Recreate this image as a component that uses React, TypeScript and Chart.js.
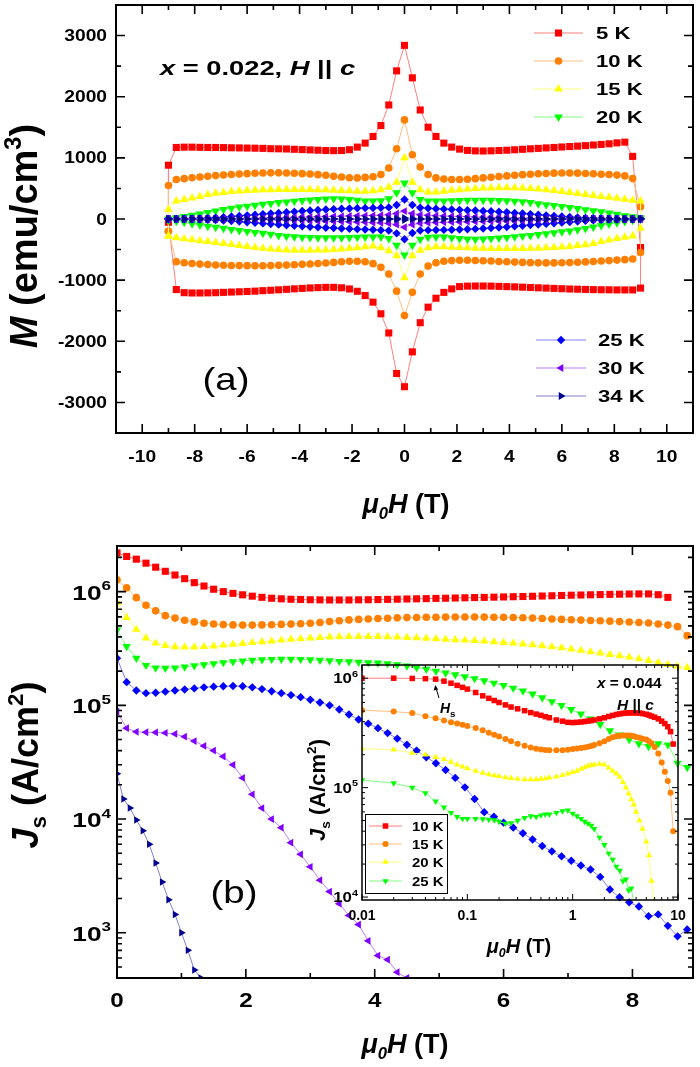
import React, { useEffect, useRef } from 'react';
import { Chart, registerables } from 'chart.js';
import { drawPoint } from 'chart.js/helpers';

Chart.register(...registerables);

// ---------------- DATA : panel (a) M(H) loops ----------------
const TEMPS = ['5 K', '10 K', '15 K', '20 K', '25 K', '30 K', '34 K'];
const H_LOOP = [-9.0, -8.7, -8.4, -8.1, -7.8, -7.5, -7.2, -6.9, -6.6, -6.3, -6.0, -5.7, -5.4, -5.1, -4.8, -4.5, -4.2, -3.9, -3.6, -3.3, -3.0, -2.7, -2.4, -2.1, -1.8, -1.5, -1.2, -0.9, -0.6, -0.3, 0, 0.3, 0.6, 0.9, 1.2, 1.5, 1.8, 2.1, 2.4, 2.7, 3.0, 3.3, 3.6, 3.9, 4.2, 4.5, 4.8, 5.1, 5.4, 5.7, 6.0, 6.3, 6.6, 6.9, 7.2, 7.5, 7.8, 8.1, 8.4, 8.7, 9.0];

const M5_UP = [880, 1170, 1175, 1175, 1172, 1170, 1170, 1168, 1165, 1163,
  1160, 1158, 1155, 1150, 1148, 1145, 1140, 1135, 1130, 1125,
  1120, 1118, 1120, 1133, 1176, 1241, 1350, 1528, 1865, 2423,
  2840, 2309, 1783, 1501, 1350, 1241, 1176, 1143, 1122, 1114,
  1112, 1115, 1120, 1125, 1132, 1140, 1148, 1155, 1163, 1170,
  1178, 1185, 1192, 1200, 1210, 1220, 1230, 1245, 1257, 1024, -467];
const M5_LO = [-50, -1154, -1205, -1210, -1210, -1208, -1205, -1200, -1195, -1190,
  -1185, -1180, -1172, -1165, -1158, -1150, -1142, -1135, -1128, -1122,
  -1118, -1118, -1125, -1144, -1182, -1252, -1360, -1550, -1864, -2526,
  -2743, -2173, -1696, -1442, -1296, -1200, -1143, -1106, -1098, -1096,
  -1096, -1098, -1102, -1106, -1110, -1115, -1120, -1125, -1130, -1135,
  -1140, -1145, -1148, -1152, -1155, -1157, -1158, -1160, -1160, -1160, -1130];

const M10_UP = [548, 645, 660, 675, 688, 700, 710, 720, 728, 735,
  742, 748, 752, 755, 755, 752, 748, 742, 735, 725,
  715, 700, 688, 675, 672, 680, 690, 727, 835, 1149,
  1621, 1052, 851, 727, 672, 655, 645, 645, 650, 660,
  672, 683, 695, 705, 715, 725, 733, 740, 745, 750,
  753, 753, 750, 745, 740, 733, 727, 718, 705, 661, 200];
const M10_LO = [-200, -700, -715, -728, -738, -745, -752, -757, -760, -762,
  -763, -764, -764, -762, -758, -754, -748, -742, -735, -728,
  -720, -710, -700, -690, -690, -700, -730, -790, -900, -1180,
  -1580, -1200, -900, -770, -715, -690, -680, -675, -675, -678,
  -682, -688, -694, -700, -705, -710, -714, -717, -718, -718,
  -716, -713, -708, -702, -695, -688, -680, -672, -665, -655, -548];

const M15_UP = [157, 293, 320, 345, 370, 400, 420, 435, 448, 458,
  466, 472, 477, 480, 482, 483, 483, 483, 482, 480,
  477, 472, 466, 460, 455, 455, 460, 480, 520, 600,
  1000, 600, 480, 440, 440, 455, 470, 480, 490, 500,
  505, 509, 512, 512, 510, 507, 500, 490, 478, 465,
  450, 435, 418, 400, 385, 370, 355, 340, 325, 305, 293];
const M15_LO = [-276, -305, -325, -340, -355, -370, -385, -400, -418, -435,
  -450, -465, -478, -490, -500, -507, -510, -512, -512, -509,
  -505, -500, -490, -480, -470, -455, -440, -470, -520, -600,
  -960, -600, -510, -470, -455, -455, -460, -466, -472, -477,
  -480, -482, -483, -483, -483, -482, -480, -477, -472, -466,
  -458, -448, -435, -420, -400, -370, -345, -320, -300, -280, -150];

const M20_UP = [0, 20, 40, 60, 80, 105, 130, 155, 175, 195,
  210, 225, 240, 255, 268, 280, 292, 302, 312, 320,
  328, 330, 328, 320, 305, 293, 293, 300, 330, 430,
  590, 430, 320, 295, 293, 296, 300, 303, 305, 306,
  306, 305, 302, 298, 292, 282, 268, 250, 235, 220,
  205, 190, 170, 152, 135, 118, 98, 76, 55, 38, 21];
const M20_LO = [-21, -38, -55, -76, -98, -118, -135, -152, -170, -190,
  -205, -220, -235, -250, -268, -282, -292, -298, -302, -305,
  -306, -306, -305, -303, -300, -296, -293, -295, -320, -430,
  -590, -430, -330, -300, -293, -293, -305, -320, -328, -330,
  -328, -320, -312, -302, -292, -280, -268, -255, -240, -225,
  -210, -195, -175, -155, -130, -105, -80, -60, -40, -20, 0];

const M25_UP = [0, 2, 4, 7, 10, 15, 22, 30, 40, 50,
  60, 70, 80, 90, 100, 110, 120, 130, 140, 148,
  155, 162, 168, 172, 176, 178, 180, 183, 190, 230,
  320, 230, 185, 175, 168, 162, 157, 150, 144, 138,
  132, 126, 118, 110, 100, 90, 80, 70, 60, 50,
  40, 32, 25, 18, 13, 9, 6, 4, 2, 1, 0];
const M25_LO = [0, -1, -3, -5, -8, -12, -17, -24, -32, -42,
  -52, -62, -72, -82, -92, -102, -112, -120, -128, -135,
  -142, -148, -155, -160, -166, -172, -176, -183, -190, -235,
  -330, -230, -188, -182, -180, -178, -176, -172, -168, -162,
  -155, -148, -140, -130, -120, -110, -100, -90, -80, -70,
  -60, -50, -40, -30, -22, -15, -10, -7, -4, -2, 0];

const M30_UP = [0, 0, 1, 1, 2, 3, 4, 5, 7, 9,
  11, 13, 16, 19, 22, 25, 28, 31, 34, 37,
  40, 43, 46, 49, 52, 55, 58, 62, 70, 90,
  130, 90, 68, 60, 55, 50, 46, 42, 38, 34,
  30, 27, 24, 21, 18, 15, 12, 10, 8, 6,
  5, 4, 3, 2, 2, 1, 1, 0, 0, 0, 0];
const M30_LO = [0, 0, 0, -1, -1, -2, -2, -3, -4, -5,
  -6, -8, -10, -12, -15, -18, -21, -24, -27, -30,
  -34, -38, -42, -46, -50, -55, -60, -65, -72, -92,
  -135, -92, -70, -62, -58, -55, -52, -49, -46, -43,
  -40, -37, -34, -31, -28, -25, -22, -19, -16, -13,
  -11, -9, -7, -5, -4, -3, -2, -1, -1, 0, 0];

const M34_UP = [0, 0, 0, 0, 0, 0, 0, 0, 0, 0,
  0, 0, 0, 0, 0, 1, 1, 1, 1, 1,
  1, 1, 2, 2, 2, 2, 3, 4, 6, 10,
  18, 10, 6, 4, 3, 2, 2, 2, 1, 1,
  1, 1, 1, 1, 1, 1, 0, 0, 0, 0,
  0, 0, 0, 0, 0, 0, 0, 0, 0, 0, 0];
const M34_LO = [0, 0, 0, 0, 0, 0, 0, 0, 0, 0,
  0, 0, 0, 0, -1, -1, -1, -1, -1, -1,
  -1, -1, -2, -2, -2, -2, -3, -4, -6, -10,
  -18, -10, -6, -4, -3, -2, -2, -2, -1, -1,
  -1, -1, -1, -1, -1, 0, 0, 0, 0, 0,
  0, 0, 0, 0, 0, 0, 0, 0, 0, 0, 0];

const LOOPS_UP = [M5_UP, M10_UP, M15_UP, M20_UP, M25_UP, M30_UP, M34_UP];
const LOOPS_LO = [M5_LO, M10_LO, M15_LO, M20_LO, M25_LO, M30_LO, M34_LO];

// ---------------- DATA : panel (b) Js(H) ----------------
const JS_H = [0, 0.15, 0.3, 0.45, 0.6, 0.75, 0.9, 1.05, 1.2, 1.35, 1.5, 1.65, 1.8, 1.95, 2.1, 2.25, 2.4, 2.55, 2.7, 2.85, 3.0, 3.15, 3.3, 3.45, 3.6, 3.75, 3.9, 4.05, 4.2, 4.35, 4.5, 4.65, 4.8, 4.95, 5.1, 5.25, 5.4, 5.55, 5.7, 5.85, 6.0, 6.15, 6.3, 6.45, 6.6, 6.75, 6.9, 7.05, 7.2, 7.35, 7.5, 7.65, 7.8, 7.95, 8.1, 8.25, 8.4, 8.55, 8.7, 8.85];
const JS5 = [2.19e6, 2.04e6, 1.93e6, 1.78e6, 1.64e6, 1.51e6, 1.40e6, 1.30e6, 1.20e6, 1.12e6,
  1.05e6, 1.00e6, 9.66e5, 9.38e5, 9.12e5, 8.91e5, 8.75e5, 8.65e5, 8.57e5, 8.53e5,
  8.49e5, 8.47e5, 8.45e5, 8.45e5, 8.45e5, 8.47e5, 8.49e5, 8.52e5, 8.55e5, 8.58e5,
  8.62e5, 8.65e5, 8.68e5, 8.72e5, 8.75e5, 8.79e5, 8.83e5, 8.87e5, 8.90e5, 8.94e5,
  8.98e5, 9.02e5, 9.06e5, 9.10e5, 9.15e5, 9.20e5, 9.25e5, 9.30e5, 9.34e5, 9.38e5,
  9.42e5, 9.46e5, 9.50e5, 9.53e5, 9.55e5, 9.55e5, 9.40e5, 8.90e5];
const JS10 = [1.27e6, 1.08e6, 8.85e5, 7.6e5, 6.78e5, 6.15e5, 5.85e5, 5.6e5, 5.42e5, 5.28e5,
  5.2e5, 5.13e5, 5.1e5, 5.08e5, 5.08e5, 5.1e5, 5.12e5, 5.15e5, 5.18e5, 5.22e5,
  5.28e5, 5.35e5, 5.45e5, 5.55e5, 5.64e5, 5.7e5, 5.75e5, 5.8e5, 5.84e5, 5.88e5,
  5.91e5, 5.93e5, 5.95e5, 5.96e5, 5.97e5, 5.98e5, 5.98e5, 5.98e5, 5.97e5, 5.96e5,
  5.95e5, 5.93e5, 5.9e5, 5.85e5, 5.8e5, 5.75e5, 5.7e5, 5.66e5, 5.62e5, 5.58e5,
  5.54e5, 5.5e5, 5.45e5, 5.4e5, 5.35e5, 5.3e5, 5.2e5, 5.08e5, 4.92e5, 4.1e5];
const JS15 = [8.0e5, 5.9e5, 4.65e5, 3.9e5, 3.52e5, 3.35e5, 3.27e5, 3.25e5, 3.26e5, 3.28e5,
  3.32e5, 3.38e5, 3.44e5, 3.5e5, 3.56e5, 3.62e5, 3.68e5, 3.74e5, 3.8e5, 3.85e5,
  3.9e5, 3.94e5, 3.98e5, 4.0e5, 4.02e5, 4.03e5, 4.03e5, 4.02e5, 4.0e5, 3.98e5,
  3.95e5, 3.92e5, 3.88e5, 3.84e5, 3.8e5, 3.77e5, 3.74e5, 3.71e5, 3.67e5, 3.62e5,
  3.57e5, 3.52e5, 3.46e5, 3.4e5, 3.34e5, 3.27e5, 3.2e5, 3.12e5, 3.04e5, 2.96e5,
  2.88e5, 2.8e5, 2.73e5, 2.65e5, 2.57e5, 2.48e5, 2.38e5, 2.28e5, 2.2e5, 2.15e5];
const JS20 = [4.6e5, 3.3e5, 2.6e5, 2.25e5, 2.13e5, 2.12e5, 2.14e5, 2.18e5, 2.23e5, 2.28e5,
  2.33e5, 2.38e5, 2.42e5, 2.46e5, 2.5e5, 2.52e5, 2.54e5, 2.55e5, 2.55e5, 2.54e5,
  2.52e5, 2.5e5, 2.47e5, 2.44e5, 2.42e5, 2.4e5, 2.38e5, 2.36e5, 2.33e5, 2.28e5,
  2.22e5, 2.15e5, 2.08e5, 2.0e5, 1.93e5, 1.86e5, 1.79e5, 1.72e5, 1.65e5, 1.57e5,
  1.5e5, 1.42e5, 1.34e5, 1.26e5, 1.17e5, 1.08e5, 1.0e5, 9.2e4, 8.4e4, 7.6e4,
  6.8e4, 6.0e4, 5.5e4, 5.0e4, 4.6e4, 4.35e4, 4.6e4, 4.5e4, 3.1e4, 2.85e4];
const JS25 = [2.6e5, 1.6e5, 1.35e5, 1.28e5, 1.29e5, 1.32e5, 1.35e5, 1.38e5, 1.41e5, 1.44e5,
  1.46e5, 1.47e5, 1.48e5, 1.47e5, 1.44e5, 1.39e5, 1.33e5, 1.28e5, 1.23e5, 1.18e5,
  1.12e5, 1.06e5, 1.0e5, 9.2e4, 8.3e4, 7.5e4, 6.9e4, 6.3e4, 5.7e4, 5.1e4,
  4.5e4, 4.0e4, 3.5e4, 3.1e4, 2.7e4, 2.3e4, 1.9e4, 1.5e4, 1.15e4, 1.05e4,
  9.3e3, 8.4e3, 7.5e3, 6.6e3, 5.8e3, 5.2e3, 4.7e3, 4.3e3, 3.9e3, 3.6e3,
  3.1e3, 2.4e3, 2.05e3, 1.85e3, 1.7e3, 1.4e3, 1.45e3, 1.15e3, 9.3e2, 1.07e3];
const JS30 = [8.8e4, 6.3e4, 5.85e4, 5.8e4, 5.78e4, 5.72e4, 5.6e4, 5.3e4, 4.85e4, 4.4e4,
  4.0e4, 3.55e4, 3.0e4, 2.3e4, 1.65e4, 1.25e4, 1.0e4, 8.4e3, 6.2e3, 4.9e3,
  3.8e3, 2.9e3, 2.3e3, 1.8e3, 1.42e3, 1.18e3, 8.5e2, 6.3e2, 5.8e2, 4.5e2, 4.0e2];
const H34 = [0, 0.1, 0.2, 0.3, 0.4, 0.5, 0.6, 0.7, 0.8, 0.9, 1.0, 1.1, 1.2, 1.3];
const JS34 = [2.5e4, 1.5e4, 1.25e4, 9.8e3, 7.9e3, 6.0e3, 4.1e3, 2.8e3, 1.95e3, 1.45e3, 1.0e3, 7.0e2, 4.7e2, 4.0e2];

// ---------------- DATA : inset (x = 0.044) ----------------
const INSET_TEMPS = ['10 K', '15 K', '20 K', '25 K'];
const INSET_H = [0.01, 0.02, 0.03, 0.04, 0.05, 0.06, 0.07, 0.08, 0.09, 0.1, 0.12, 0.14, 0.16, 0.18, 0.2, 0.23, 0.26, 0.3, 0.35, 0.4, 0.45, 0.5, 0.55, 0.6, 0.7, 0.8, 0.9, 1.0, 1.1, 1.2, 1.3, 1.4, 1.5, 1.6, 1.8, 2.0, 2.2, 2.4, 2.6, 2.8, 3.0, 3.2, 3.4, 3.6, 3.8, 4.0, 4.3, 4.6, 5.0, 5.3, 5.6, 6.0, 6.5, 7.0, 7.5, 8.0, 8.5, 9.0];
const IN10 = [1.0e6, 1.0e6, 9.95e5, 9.9e5, 9.8e5, 9.4e5, 9.0e5, 8.6e5, 8.25e5, 7.95e5,
  7.4e5, 6.9e5, 6.55e5, 6.25e5, 6.0e5, 5.7e5, 5.45e5, 5.25e5, 5.05e5, 4.85e5,
  4.7e5, 4.58e5, 4.45e5, 4.35e5, 4.15e5, 4.05e5, 3.95e5, 3.93e5, 3.95e5, 3.98e5,
  4.02e5, 4.06e5, 4.1e5, 4.15e5, 4.25e5, 4.35e5, 4.47e5, 4.57e5, 4.66e5, 4.72e5,
  4.77e5, 4.8e5, 4.82e5, 4.83e5, 4.83e5, 4.82e5, 4.8e5, 4.75e5, 4.68e5, 4.6e5,
  4.5e5, 4.4e5, 4.25e5, 4.05e5, 3.85e5, 3.6e5, 3.25e5, 2.5e5];
const IN15 = [5.1e5, 4.95e5, 4.8e5, 4.5e5, 4.3e5, 4.1e5, 3.95e5, 3.85e5, 3.75e5, 3.65e5,
  3.5e5, 3.35e5, 3.18e5, 3.05e5, 2.93e5, 2.78e5, 2.65e5, 2.52e5, 2.42e5, 2.33e5,
  2.27e5, 2.23e5, 2.21e5, 2.2e5, 2.2e5, 2.2e5, 2.22e5, 2.25e5, 2.28e5, 2.3e5,
  2.33e5, 2.36e5, 2.4e5, 2.45e5, 2.55e5, 2.65e5, 2.78e5, 2.88e5, 2.95e5, 2.98e5,
  3.0e5, 3.0e5, 3.0e5, 2.98e5, 2.95e5, 2.9e5, 2.85e5, 2.8e5, 2.75e5, 2.65e5,
  2.55e5, 2.35e5, 2.05e5, 1.7e5, 1.4e5, 1.15e5, 9.0e4, 4.0e4];
const IN20 = [2.27e5, 2.22e5, 2.07e5, 2.0e5, 1.9e5, 1.82e5, 1.72e5, 1.62e5, 1.55e5, 1.5e5,
  1.42e5, 1.36e5, 1.32e5, 1.29e5, 1.27e5, 1.24e5, 1.22e5, 1.2e5, 1.19e5, 1.19e5,
  1.19e5, 1.2e5, 1.21e5, 1.23e5, 1.26e5, 1.3e5, 1.34e5, 1.38e5, 1.42e5, 1.48e5,
  1.53e5, 1.58e5, 1.6e5, 1.62e5, 1.65e5, 1.62e5, 1.52e5, 1.42e5, 1.34e5, 1.25e5,
  1.12e5, 1.0e5, 8.8e4, 7.8e4, 7.0e4, 6.0e4, 5.0e4, 4.2e4, 3.2e4, 2.4e4,
  1.4e4, 8.0e3];
const IN25 = [1.17e5, 1.1e5, 1.0e5, 8.9e4, 7.5e4, 6.6e4, 5.9e4, 5.4e4, 5.2e4, 5.2e4,
  5.2e4, 5.15e4, 5.1e4, 5.05e4, 4.9e4, 4.7e4, 4.75e4, 5.0e4, 5.3e4, 5.5e4,
  5.4e4, 5.6e4, 5.7e4, 5.7e4, 5.9e4, 6.1e4, 6.2e4, 5.8e4, 5.5e4, 5.2e4,
  4.9e4, 4.7e4, 4.5e4, 4.2e4, 3.5e4, 3.0e4, 2.5e4, 2.2e4, 1.9e4, 1.75e4,
  1.4e4, 1.45e4, 1.15e4, 1.2e4, 9.0e3];

// ---------------- TICKS ----------------
const A_X_TICKS = [-10, -8, -6, -4, -2, 0, 2, 4, 6, 8, 10];
const A_X_MINOR = [-9, -7, -5, -3, -1, 1, 3, 5, 7, 9];
const A_Y_TICKS = [-3000, -2000, -1000, 0, 1000, 2000, 3000];
const A_Y_MINOR = [-2500, -1500, -500, 500, 1500, 2500];
const B_X_TICKS = [0, 2, 4, 6, 8];
const B_X_MINOR = [1, 3, 5, 7];
const B_Y_EXP = [3, 4, 5, 6];
const C_X_TICKS = [0.01, 0.1, 1, 10];
const C_X_LABELS = ['0.01', '0.1', '1', '10'];
const C_Y_EXP = [4, 5, 6];

// ---------------- STYLES ----------------
const FONT = '"Liberation Sans", Arial, Helvetica, sans-serif';
const STY = [
  { color: '#ff0000', line: '#ff7f7f', ps: 'rect', rot: 0 },
  { color: '#ff8000', line: '#ffbf80', ps: 'circle', rot: 0 },
  { color: '#ffff00', line: '#ffff80', ps: 'triangle', rot: 0 },
  { color: '#00ff00', line: '#80ff80', ps: 'triangle', rot: 180 },
  { color: '#0000ff', line: '#8080ff', ps: 'rectRot', rot: 0 },
  { color: '#8000ff', line: '#bf80ff', ps: 'triangle', rot: 270 },
  { color: '#000090', line: '#8080c8', ps: 'triangle', rot: 90 },
];
const R_A = [5, 3.8, 5, 5, 4.2, 4.5, 4.5];
const R_B = [5, 3.8, 4.8, 4.8, 4.2, 4.5, 4.3];
const R_C = [3.9, 3, 3.6, 3.6];

type Seg = { t: string; it?: boolean; k?: number; dy?: number };
const MU0H: Seg[] = [{ t: 'μ', it: true }, { t: '0', it: true, k: 0.62, dy: 0.22 }, { t: 'H', it: true }, { t: ' (T)' }];
const M_TITLE: Seg[] = [{ t: 'M', it: true }, { t: ' (emu/cm' }, { t: '3', k: 0.62, dy: -0.42 }, { t: ')' }];
const J_TITLE: Seg[] = [{ t: 'J', it: true }, { t: 's', k: 0.62, dy: 0.22 }, { t: ' (A/cm' }, { t: '2', k: 0.62, dy: -0.42 }, { t: ')' }];

function rich(ctx: CanvasRenderingContext2D, segs: Seg[], x: number, y: number, size: number, o: any = {}) {
  const align = o.align || 'left';
  const sx = o.sx || 1;
  const weight = o.weight || 'bold';
  ctx.save();
  ctx.translate(x, y);
  if (o.rot) ctx.rotate(o.rot);
  ctx.scale(sx, 1);
  ctx.fillStyle = o.color || '#000';
  ctx.textBaseline = 'alphabetic';
  ctx.textAlign = 'left';
  const fonts = segs.map((s) => `${s.it ? 'italic ' : ''}${weight} ${(size * (s.k ?? 1)).toFixed(1)}px ${FONT}`);
  const widths = segs.map((s, i) => { ctx.font = fonts[i]; return ctx.measureText(s.t).width; });
  const total = widths.reduce((a, b) => a + b, 0);
  let cx = align === 'center' ? -total / 2 : align === 'right' ? -total : 0;
  segs.forEach((s, i) => { ctx.font = fonts[i]; ctx.fillText(s.t, cx, (s.dy ?? 0) * size); cx += widths[i]; });
  ctx.restore();
}

function logMinors(e0: number, e1: number) {
  const out: number[] = [];
  for (let e = e0; e <= e1; e++) for (let m = 2; m <= 9; m++) out.push(m * Math.pow(10, e));
  return out;
}

function frame(chart: any, xMaj: number[], xMin: number[], yMaj: number[], yMin: number[], maj: number, mnr: number, lw: number, tlw: number) {
  const { ctx, chartArea: a, scales } = chart;
  const xs = scales.x, ys = scales.y;
  const inX = (v: number) => v >= xs.min && v <= xs.max;
  const inY = (v: number) => v >= ys.min && v <= ys.max;
  ctx.save();
  ctx.strokeStyle = '#000';
  ctx.lineWidth = tlw;
  ctx.beginPath();
  const xt = (vals: number[], len: number) => vals.filter(inX).forEach((v) => {
    const p = xs.getPixelForValue(v);
    ctx.moveTo(p, a.bottom); ctx.lineTo(p, a.bottom - len);
    ctx.moveTo(p, a.top); ctx.lineTo(p, a.top + len);
  });
  const yt = (vals: number[], len: number) => vals.filter(inY).forEach((v) => {
    const p = ys.getPixelForValue(v);
    ctx.moveTo(a.left, p); ctx.lineTo(a.left + len, p);
    ctx.moveTo(a.right, p); ctx.lineTo(a.right - len, p);
  });
  xt(xMaj, maj); xt(xMin, mnr); yt(yMaj, maj); yt(yMin, mnr);
  ctx.stroke();
  ctx.lineWidth = lw;
  ctx.strokeRect(a.left, a.top, a.right - a.left, a.bottom - a.top);
  ctx.restore();
}

function legendEntry(ctx: CanvasRenderingContext2D, i: number, label: string, x0: number, x1: number, y: number, tx: number, r: number, size: number, sx: number) {
  const st = STY[i];
  ctx.save();
  ctx.strokeStyle = st.line; ctx.lineWidth = 1;
  ctx.beginPath(); ctx.moveTo(x0, y); ctx.lineTo(x1, y); ctx.stroke();
  ctx.fillStyle = st.color;
  drawPoint(ctx, { pointStyle: st.ps, rotation: st.rot, radius: r, borderWidth: 0 } as any, (x0 + x1) / 2, y);
  ctx.restore();
  rich(ctx, [{ t: label }], tx, y + size * 0.36, size, { sx });
}

function makeDs(label: string, data: any[], i: number, r: number, order: number) {
  const st = STY[i];
  return {
    label, data, order,
    showLine: true, borderColor: st.line, borderWidth: 1, tension: 0,
    pointStyle: st.ps, pointRotation: st.rot, pointRadius: r, pointHoverRadius: r,
    pointBorderWidth: 0, pointBackgroundColor: st.color, pointBorderColor: st.color, backgroundColor: st.color,
  };
}

const hidden = (extra: any) => ({ ...extra, ticks: { display: false }, grid: { display: false }, border: { display: false } });

// ---------------- PANEL (a) ----------------
function configA(): any {
  const datasets = TEMPS.map((lab, i) => {
    const lo = LOOPS_LO[i], up = LOOPS_UP[i];
    const pts: any[] = lo.map((m, k) => ({ x: H_LOOP[k], y: m }));
    for (let k = up.length - 1; k >= 0; k--) pts.push({ x: H_LOOP[k], y: up[k] });
    pts.push({ x: H_LOOP[0], y: lo[0] });
    return makeDs(lab, pts, i, R_A[i], TEMPS.length - i);
  });
  return {
    type: 'scatter',
    data: { datasets },
    options: {
      animation: false, responsive: false, events: [],
      layout: { padding: { top: 4, right: 7, left: 0, bottom: 0 } },
      plugins: { legend: { display: false }, tooltip: { enabled: false } },
      scales: {
        x: hidden({ type: 'linear', min: -11, max: 11, afterFit: (s: any) => { s.height = 97; } }),
        y: hidden({ type: 'linear', min: -3500, max: 3500, afterFit: (s: any) => { s.width = 116; } }),
      },
    },
    plugins: [{
      id: 'decorA',
      afterDraw(chart: any) {
        const { ctx } = chart;
        const xs = chart.scales.x, ys = chart.scales.y;
        frame(chart, A_X_TICKS, A_X_MINOR, A_Y_TICKS, A_Y_MINOR, 9, 5, 2, 1.6);
        A_Y_TICKS.forEach((v) => rich(ctx, [{ t: String(v) }], 107, ys.getPixelForValue(v) + 5.6, 16, { align: 'right', sx: 1.2 }));
        A_X_TICKS.forEach((v) => rich(ctx, [{ t: String(v) }], xs.getPixelForValue(v), 462, 16, { align: 'center', sx: 1.2 }));
        rich(ctx, MU0H, 406, 513, 27, { align: 'center' });
        rich(ctx, M_TITLE, 37, 236, 38, { align: 'center', rot: -Math.PI / 2 });
        rich(ctx, [{ t: 'x', it: true }, { t: ' = 0.022, ' }, { t: 'H', it: true }, { t: ' || ' }, { t: 'c', it: true }], 160, 75, 21, { sx: 1.3 });
        rich(ctx, [{ t: '(a)' }], 226, 390, 32, { align: 'center', weight: 'normal', sx: 1.2 });
        [33, 61, 89, 117].forEach((y, j) => legendEntry(ctx, j, TEMPS[j], 534, 583, y, 596, R_A[j], 17, 1.3));
        [340, 368, 396].forEach((y, j) => legendEntry(ctx, j + 4, TEMPS[j + 4], 536, 586, y, 598, R_A[j + 4], 17, 1.3));
      },
    }],
  };
}

// ---------------- PANEL (b) ----------------
function configB(): any {
  const series = [JS5, JS10, JS15, JS20, JS25, JS30];
  const datasets: any[] = series.map((vals, i) => makeDs(TEMPS[i], vals.map((v, k) => ({ x: JS_H[k], y: v })), i, R_B[i], 7 - i));
  datasets.push(makeDs(TEMPS[6], JS34.map((v, k) => ({ x: H34[k], y: v })), 6, R_B[6], 1));
  return {
    type: 'scatter',
    data: { datasets },
    options: {
      animation: false, responsive: false, events: [],
      layout: { padding: { top: 16, right: 7, left: 1, bottom: 0 } },
      plugins: { legend: { display: false }, tooltip: { enabled: false } },
      scales: {
        x: hidden({ type: 'linear', min: 0, max: 8.94, afterFit: (s: any) => { s.height = 89; } }),
        y: hidden({ type: 'logarithmic', min: 400, max: 2.52e6, afterFit: (s: any) => { s.width = 116; } }),
      },
    },
    plugins: [{
      id: 'decorB',
      afterDraw(chart: any) {
        const { ctx } = chart;
        const xs = chart.scales.x, ys = chart.scales.y;
        const yMaj = B_Y_EXP.map((e) => Math.pow(10, e));
        frame(chart, B_X_TICKS, B_X_MINOR, yMaj, logMinors(2, 6), 9, 5, 2, 1.6);
        B_Y_EXP.forEach((e) => rich(ctx, [{ t: '10' }, { t: String(e), k: 0.65, dy: -0.45 }], 111, ys.getPixelForValue(Math.pow(10, e)) + 8, 21, { align: 'right', sx: 1.25 }));
        B_X_TICKS.forEach((v) => rich(ctx, [{ t: String(v) }], xs.getPixelForValue(v), 477, 21, { align: 'center', sx: 1.15 }));
        rich(ctx, MU0H, 405, 523, 27, { align: 'center' });
        rich(ctx, J_TITLE, 38, 235, 36, { align: 'center', rot: -Math.PI / 2 });
        rich(ctx, [{ t: '(b)' }], 234, 373, 32, { align: 'center', weight: 'normal', sx: 1.2 });
      },
    }],
  };
}

// ---------------- INSET ----------------
function configC(): any {
  const series = [IN10, IN15, IN20, IN25];
  const datasets = series.map((vals, i) => makeDs(INSET_TEMPS[i], vals.map((v, k) => ({ x: INSET_H[k], y: v })), i, R_C[i], 4 - i));
  return {
    type: 'scatter',
    data: { datasets },
    options: {
      animation: false, responsive: false, events: [],
      layout: { padding: { top: 15, right: 12, left: 0, bottom: 0 } },
      plugins: { legend: { display: false }, tooltip: { enabled: false } },
      scales: {
        x: hidden({ type: 'logarithmic', min: 0.01, max: 10, afterFit: (s: any) => { s.height = 60; } }),
        y: hidden({ type: 'logarithmic', min: 9.4e3, max: 1.32e6, afterFit: (s: any) => { s.width = 72; } }),
      },
    },
    plugins: [{
      id: 'decorC',
      afterDraw(chart: any) {
        const { ctx } = chart;
        const xs = chart.scales.x, ys = chart.scales.y;
        frame(chart, C_X_TICKS, logMinors(-2, 0), C_Y_EXP.map((e) => Math.pow(10, e)), logMinors(3, 6), 6, 3, 1.5, 1);
        C_Y_EXP.forEach((e) => rich(ctx, [{ t: '10' }, { t: String(e), k: 0.65, dy: -0.45 }], 68, ys.getPixelForValue(Math.pow(10, e)) + 5, 14, { align: 'right', sx: 1.2 }));
        C_X_TICKS.forEach((v, i) => rich(ctx, [{ t: C_X_LABELS[i] }], xs.getPixelForValue(v), 270, 14, { align: 'center' }));
        rich(ctx, MU0H, 229, 303, 20, { align: 'center' });
        rich(ctx, J_TITLE, 35, 140, 22, { align: 'center', rot: -Math.PI / 2 });
        rich(ctx, [{ t: 'x', it: true }, { t: ' = 0.044' }], 307, 38, 14, { sx: 1.1 });
        rich(ctx, [{ t: 'H', it: true }, { t: ' || ' }, { t: 'c', it: true }], 327, 60, 14, { sx: 1.1 });
        rich(ctx, [{ t: 'H', it: true }, { t: 's', k: 0.7, dy: 0.25 }], 150, 63, 14, {});
        // arrow for Hs
        ctx.save();
        ctx.strokeStyle = '#000'; ctx.fillStyle = '#000'; ctx.lineWidth = 1;
        ctx.beginPath(); ctx.moveTo(149, 48); ctx.lineTo(146, 38); ctx.stroke();
        ctx.beginPath(); ctx.moveTo(145.3, 35); ctx.lineTo(143.6, 40.5); ctx.lineTo(148.2, 39.4); ctx.closePath(); ctx.fill();
        ctx.restore();
        // legend box
        ctx.save();
        ctx.fillStyle = '#fff'; ctx.strokeStyle = '#000'; ctx.lineWidth = 1;
        ctx.fillRect(75, 164, 82, 79); ctx.strokeRect(75.5, 164.5, 82, 79);
        ctx.restore();
        [176, 194, 212, 231].forEach((y, j) => legendEntry(ctx, j, INSET_TEMPS[j], 79, 112, y, 122, R_C[j], 13, 1.15));
      },
    }],
  };
}

export default function App() {
  const a = useRef<HTMLCanvasElement>(null);
  const b = useRef<HTMLCanvasElement>(null);
  const c = useRef<HTMLCanvasElement>(null);
  useEffect(() => {
    const ca = new Chart(a.current as HTMLCanvasElement, configA());
    const cb = new Chart(b.current as HTMLCanvasElement, configB());
    const cc = new Chart(c.current as HTMLCanvasElement, configC());
    return () => { ca.destroy(); cb.destroy(); cc.destroy(); };
  }, []);
  return (
    <div style={{ position: 'absolute', left: 0, top: 0, width: 700, height: 1067, background: '#fff', overflow: 'hidden' }}>
      <canvas ref={a} width={700} height={530} style={{ position: 'absolute', left: 0, top: 0 }} />
      <canvas ref={b} width={700} height={537} style={{ position: 'absolute', left: 0, top: 530 }} />
      <canvas ref={c} width={400} height={310} style={{ position: 'absolute', left: 290, top: 650 }} />
    </div>
  );
}
